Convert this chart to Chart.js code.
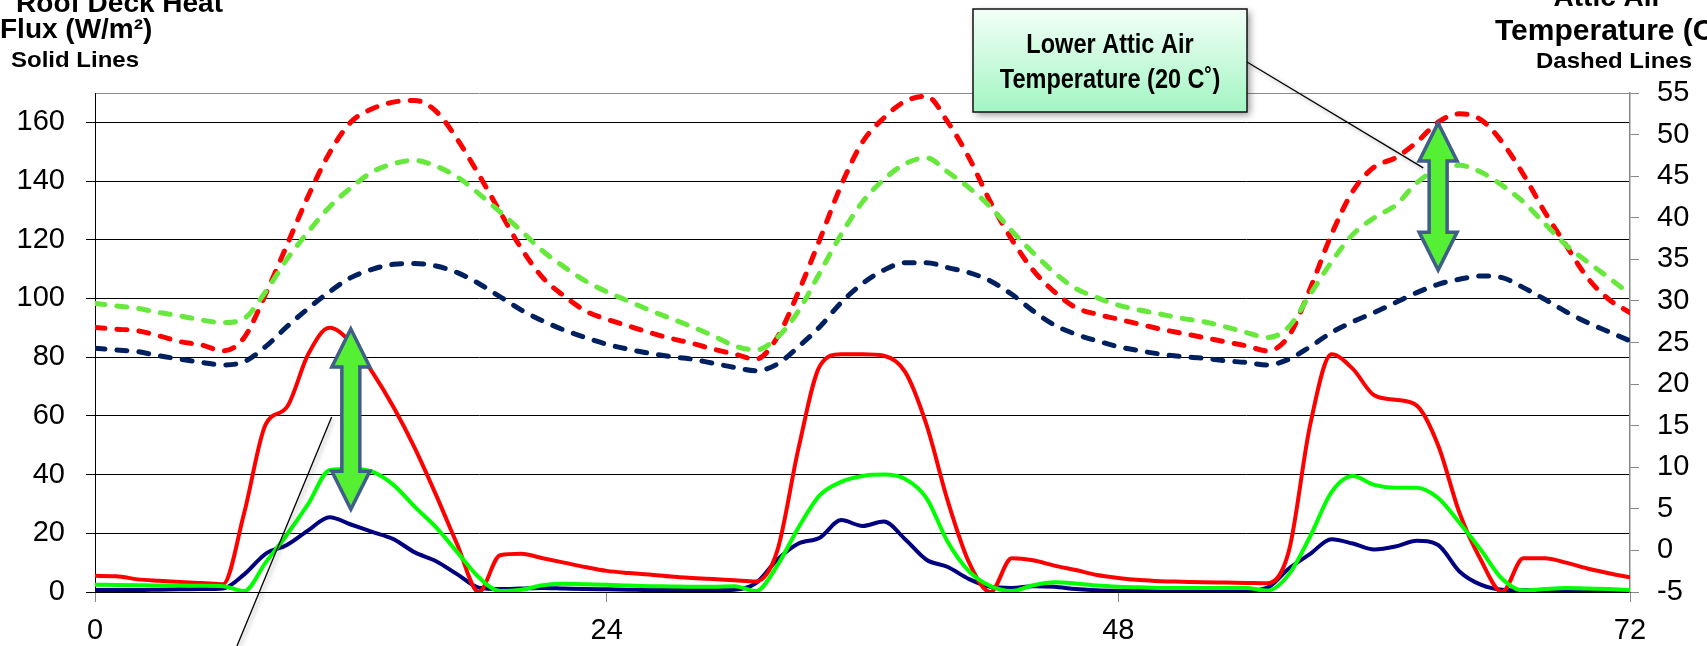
<!DOCTYPE html>
<html>
<head>
<meta charset="utf-8">
<script src="https://cdn.jsdelivr.net/npm/chart.js@4.4.0/dist/chart.umd.min.js"></script>
<style>
  html, body { margin: 0; padding: 0; background: #fff; }
</style>
</head>
<body>
<canvas id="myChart" width="1707" height="646"></canvas>
<script>
// hours along the bottom, one point per hour
const hours = Array.from({ length: 73 }, (_, i) => i);
const hourTicks = [0, 24, 48, 72];
const fluxTicks = [0, 20, 40, 60, 80, 100, 120, 140, 160];
const tempTicks = [-5, 0, 5, 10, 15, 20, 25, 30, 35, 40, 45, 50, 55];

// roof deck heat flux (W/m2), solid lines
const redFlux = [5.5, 5.4, 4.3, 3.8, 3.4, 3.1, 2.6, 27, 57, 63, 81, 90, 85, 75, 63, 49, 33, 16, 0, 12.5,
  13, 11.5, 10, 8.5, 7.2, 6.5, 6, 5.3, 4.8, 4.4, 4, 3.6, 14, 49, 77, 81, 81, 80.5, 75, 57,
  31, 10, 0, 11.5, 10.8, 9, 7.5, 5.8, 4.8, 4.1, 3.7, 3.5, 3.3, 3.2, 3.1, 3, 14, 57, 81, 76,
  67, 65.5, 63.5, 50, 27, 11, 0, 11.5, 11.5, 10, 8, 6.4, 5];
const greenFlux = [2.5, 2.4, 2.3, 2.2, 2.2, 2.1, 2, 0.3, 10, 19.5, 30, 41.5, 42, 41, 36.5, 29, 22, 13.5, 5, 0.3,
  0.8, 2.3, 2.8, 2.6, 2.5, 2.2, 2, 1.9, 1.8, 1.8, 2, 0.3, 9, 22, 33, 37.5, 39.5, 40, 38.5, 32,
  17, 7, 2, 0.3, 2.3, 3.3, 2.9, 2.2, 1.8, 1.6, 1.4, 1.4, 1.4, 1.4, 1.4, 0.5, 6, 19, 34, 39.5,
  36.5, 35.5, 35.5, 32, 23.6, 14.4, 4.5, 0.5, 1, 1.4, 1.2, 1, 0.7];
const navyFlux = [0.7, 0.7, 0.7, 0.8, 0.9, 1, 1.2, 6, 13, 16, 21, 25.5, 23, 20.5, 18, 13.5, 10.5, 6, 1.5, 1,
  1.2, 1.4, 1.2, 1, 0.9, 0.8, 0.7, 0.7, 0.7, 0.7, 0.8, 3, 11, 16.5, 18.5, 24.5, 22.5, 24, 18, 11,
  8.5, 4.4, 1.8, 1.4, 2, 1.8, 1, 0.6, 0.4, 0.3, 0.3, 0.3, 0.3, 0.4, 0.5, 1.5, 8, 13, 18, 16.5,
  14.5, 15.5, 17.5, 16, 7, 2.5, 0.8, 0.6, 0.5, 0.5, 0.4, 0.4, 0.3];

// attic air temperature (C), dashed lines
const redTemp = [26.8, 26.6, 26.4, 25.8, 25.1, 24.7, 24, 25.6, 30.8, 36.7, 42.6, 47.8, 51.5, 53.1, 53.9, 54.1, 52.8, 49.4, 45.2, 40.7,
  36.3, 32.8, 30.6, 28.8, 27.8, 27, 26.2, 25.5, 24.9, 24.2, 23.6, 23, 25.6, 31.1, 37.4, 43.9, 49.1, 52, 54, 54.6,
  51.5, 47.2, 41.9, 37.4, 33.7, 31.1, 29.2, 28.4, 27.8, 27.2, 26.6, 26.1, 25.6, 25.1, 24.6, 24, 25.8, 31.5, 38, 43.2,
  46.1, 47.2, 49.1, 51.5, 52.5, 51.8, 49.1, 45.2, 40.7, 36.7, 32.8, 30.2, 28.6];
const greenTemp = [29.7, 29.4, 29.1, 28.6, 28.2, 27.7, 27.4, 27.9, 31.1, 35, 38.3, 41.3, 43.6, 45.5, 46.5, 46.9, 46.2, 44.9, 42.9, 40.7,
  38.4, 36, 34.1, 32.4, 31.1, 30, 28.9, 27.9, 26.9, 25.8, 24.6, 24.1, 25.6, 28.8, 33.4, 38, 41.9, 44.6, 46.5, 47.2,
  45.5, 43.6, 41.3, 38.4, 35.8, 33.4, 31.5, 30.4, 29.5, 28.9, 28.4, 27.9, 27.5, 26.9, 26.2, 25.6, 26.9, 30.8, 34.7, 38,
  40, 41.5, 44.2, 45.9, 46.3, 45.5, 43.9, 41.9, 39.3, 36.7, 34.7, 32.8, 30.8];
const navyTemp = [24.3, 24.1, 23.9, 23.4, 23, 22.6, 22.3, 22.7, 24.5, 26.9, 29.1, 31.1, 32.8, 33.8, 34.4, 34.5, 34.2, 33.4, 32.1, 30.5,
  28.9, 27.6, 26.5, 25.6, 24.8, 24.2, 23.7, 23.3, 23, 22.5, 22, 21.6, 22.4, 24.5, 26.9, 29.8, 32.1, 33.7, 34.6, 34.6,
  34, 33.4, 32.4, 30.8, 28.8, 27.1, 26, 25.2, 24.5, 24, 23.6, 23.3, 23.1, 22.8, 22.6, 22.3, 23, 24.5, 26.2, 27.5,
  28.6, 29.8, 31, 32, 32.6, 33, 32.8, 31.6, 30.2, 28.7, 27.4, 26.3, 25.2];

const FONT = '"Liberation Sans", Arial, sans-serif';
Chart.defaults.font.family = FONT;
Chart.defaults.color = '#000';

function pts(arr) {
  return hours.map((h, i) => ({ x: h, y: arr[i] }));
}

function solid(label, arr, color) {
  return { label: label, data: pts(arr), yAxisID: 'yFlux', borderColor: color, borderWidth: 4,
    pointRadius: 0, fill: false, cubicInterpolationMode: 'monotone' };
}
function dashed(label, arr, color) {
  return { label: label, data: pts(arr), yAxisID: 'yTemp', borderColor: color, borderWidth: 5,
    borderDash: [10, 12], borderCapStyle: 'round', pointRadius: 0, fill: false, cubicInterpolationMode: 'monotone' };
}

// text drawn with a stretch so it matches the reference proportions
function txt(ctx, s, x, y, size, align, sx, sy) {
  ctx.save();
  ctx.translate(x, y);
  ctx.scale(sx, sy);
  ctx.font = 'bold ' + size + 'px ' + FONT;
  ctx.textAlign = align;
  ctx.textBaseline = 'alphabetic';
  ctx.fillStyle = '#000';
  ctx.fillText(s, 0, 0);
  ctx.restore();
}

function doubleArrow(ctx, cx, yTop, yBot) {
  const hw = 19, sw = 9, hl = 38;
  ctx.save();
  ctx.beginPath();
  ctx.moveTo(cx, yTop);
  ctx.lineTo(cx + hw, yTop + hl);
  ctx.lineTo(cx + sw, yTop + hl);
  ctx.lineTo(cx + sw, yBot - hl);
  ctx.lineTo(cx + hw, yBot - hl);
  ctx.lineTo(cx, yBot);
  ctx.lineTo(cx - hw, yBot - hl);
  ctx.lineTo(cx - sw, yBot - hl);
  ctx.lineTo(cx - sw, yTop + hl);
  ctx.lineTo(cx - hw, yTop + hl);
  ctx.closePath();
  ctx.fillStyle = '#55ef33';
  ctx.fill();
  ctx.lineWidth = 3.5;
  ctx.lineJoin = 'miter';
  ctx.strokeStyle = '#3f5e88';
  ctx.stroke();
  ctx.restore();
}

function shadowLine(ctx, x1, y1, x2, y2) {
  ctx.save();
  ctx.shadowColor = 'rgba(0,0,0,0.35)';
  ctx.shadowBlur = 4;
  ctx.shadowOffsetX = 2;
  ctx.shadowOffsetY = 2;
  ctx.beginPath();
  ctx.moveTo(x1, y1);
  ctx.lineTo(x2, y2);
  ctx.strokeStyle = '#000';
  ctx.lineWidth = 1.3;
  ctx.stroke();
  ctx.restore();
}

const annotations = {
  id: 'annotations',
  afterDatasetsDraw(chart) {
    const ctx = chart.ctx;
    const x = chart.scales.x, yF = chart.scales.yFlux, yT = chart.scales.yTemp;
    // pointer lines
    shadowLine(ctx, 1247, 62, x.getPixelForValue(62.3), yT.getPixelForValue(46));
    shadowLine(ctx, x.getPixelForValue(11.1), yF.getPixelForValue(59.6), x.getPixelForValue(6.66), yF.getPixelForValue(-18.4));
    // arrows between the red and green cases
    doubleArrow(ctx, x.getPixelForValue(12), yF.getPixelForValue(89.6), yF.getPixelForValue(28.2));
    doubleArrow(ctx, x.getPixelForValue(63), yT.getPixelForValue(51.4), yT.getPixelForValue(33.7));
  },
  afterDraw(chart) {
    const ctx = chart.ctx;
    // axis titles
    txt(ctx, 'Roof Deck Heat', 223, 12, 28, 'right', 1, 1);
    txt(ctx, 'Flux (W/m\u00B2)', 0, 38, 28, 'left', 1, 1);
    txt(ctx, 'Solid Lines', 75, 67, 24, 'center', 1, 0.92);
    txt(ctx, 'Attic Air', 1608, 6, 28, 'center', 1, 1);
    txt(ctx, 'Temperature (C)', 1495, 40, 30, 'left', 1, 1);
    txt(ctx, 'Dashed Lines', 1614, 68, 24, 'center', 1, 0.92);

    // callout box
    const bx = 973, by = 9, bw = 274, bh = 103;
    ctx.save();
    ctx.shadowColor = 'rgba(0,0,0,0.4)';
    ctx.shadowBlur = 7;
    ctx.shadowOffsetX = 3;
    ctx.shadowOffsetY = 3;
    const g = ctx.createLinearGradient(0, by, 0, by + bh);
    g.addColorStop(0, '#f3fff7');
    g.addColorStop(1, '#a2f5c3');
    ctx.fillStyle = g;
    ctx.fillRect(bx, by, bw, bh);
    ctx.restore();
    ctx.save();
    ctx.strokeStyle = '#111';
    ctx.lineWidth = 1.5;
    ctx.strokeRect(bx, by, bw, bh);
    ctx.restore();
    txt(ctx, 'Lower Attic Air', bx + bw / 2, 53, 28, 'center', 0.84, 1);
    txt(ctx, 'Temperature (20 C\u02DA)', bx + bw / 2, 88, 28, 'center', 0.84, 1);
  }
};

const config = {
  type: 'line',
  data: {
    datasets: [
      solid('Green flux', greenFlux, '#00ff00'),
      solid('Red flux', redFlux, '#ff0000'),
      solid('Navy flux', navyFlux, '#000080'),
      dashed('Green temp', greenTemp, '#66e83c'),
      dashed('Red temp', redTemp, '#ff0000'),
      dashed('Navy temp', navyTemp, '#002060')
    ]
  },
  options: {
    responsive: false,
    animation: false,
    layout: { padding: { top: 93, left: 0, right: 0, bottom: 0 } },
    plugins: { legend: { display: false }, tooltip: { enabled: false } },
    scales: {
      x: {
        type: 'linear', min: 0, max: 72,
        afterBuildTicks: (s) => { s.ticks = hourTicks.map(v => ({ value: v })); },
        afterFit: (s) => { s.height = 54; },
        ticks: { font: { size: 29 }, padding: 12, maxRotation: 0, color: '#000' },
        grid: { drawOnChartArea: false, tickLength: 10, tickColor: '#888' },
        border: { color: '#000', width: 1 }
      },
      yFlux: {
        position: 'left', min: 0, max: 170,
        afterBuildTicks: (s) => { s.ticks = fluxTicks.concat([170]).map(v => ({ value: v })); },
        afterFit: (s) => { s.width = 95; },
        ticks: { font: { size: 29 }, padding: 21, color: '#000',
          callback: (v) => (v === 170 ? '' : v) },
        grid: {
          color: (c) => (c.tick && c.tick.value === 170 ? '#8c8c8c' : '#000'),
          tickColor: (c) => (c.tick && c.tick.value === 170 ? 'rgba(0,0,0,0)' : '#000'),
          tickLength: 9, lineWidth: 1
        },
        border: { color: '#000', width: 1 }
      },
      yTemp: {
        position: 'right', min: -5, max: 55,
        afterBuildTicks: (s) => { s.ticks = tempTicks.map(v => ({ value: v })); },
        afterFit: (s) => { s.width = 77; },
        ticks: { font: { size: 29 }, padding: 18, color: '#000' },
        grid: { drawOnChartArea: false, tickLength: 9, tickColor: '#888' },
        border: { color: '#888', width: 1.5 }
      }
    }
  },
  plugins: [annotations]
};

const graph = new Chart(document.getElementById('myChart'), config);
</script>
</body>
</html>
